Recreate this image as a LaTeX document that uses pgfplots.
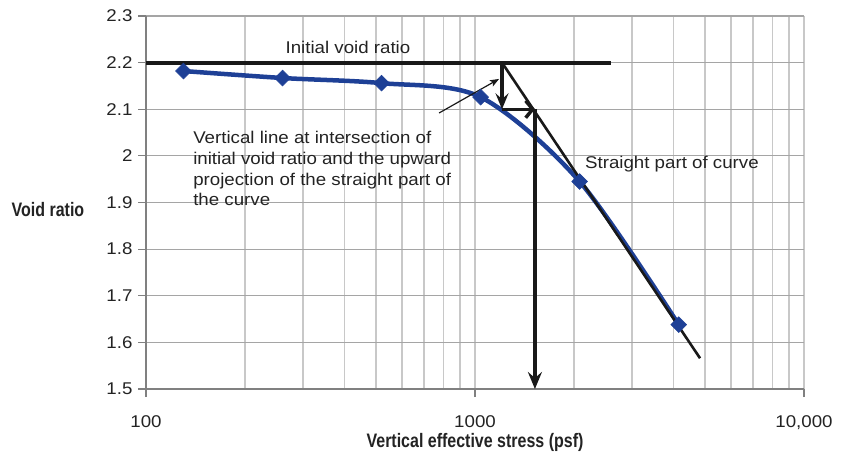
\documentclass[border=0pt]{standalone}
\usepackage{pgfplots}
\pgfplotsset{compat=1.18}
\usepackage{fontspec}
\setmainfont{Liberation Sans}[FakeStretch=1.1]
\newfontfamily\labelfont{Liberation Sans Bold}[FakeStretch=0.82]
\usetikzlibrary{arrows.meta}
\definecolor{curveblue}{RGB}{30,64,150}
\definecolor{vgrid}{RGB}{200,200,200}
\definecolor{hgrid}{RGB}{165,165,165}
\definecolor{axisgray}{RGB}{128,128,128}
\definecolor{textgray}{RGB}{35,35,35}
\begin{document}
\begin{tikzpicture}[x=1pt,y=1pt]
\useasboundingbox (-146,-62) rectangle (696,389);
\begin{axis}[
  at={(0,0)}, anchor=south west, scale only axis,
  width=658pt, height=373pt,
  xmode=log, xmin=100, xmax=10000, ymin=1.5, ymax=2.3,
  clip=false,
  xtick={100,1000,10000}, xticklabels={100,1000,{10,000}},
  minor xtick={200,300,400,500,600,700,800,900,2000,3000,4000,5000,6000,7000,8000,9000},
  ytick={1.5,1.6,1.7,1.8,1.9,2.0,2.1,2.2,2.3},
  yticklabels={1.5,1.6,1.7,1.8,1.9,2,2.1,2.2,2.3},
  xmajorgrids, xminorgrids, ymajorgrids,
  x grid style={vgrid, line width=1.1pt},
  y grid style={hgrid, line width=1.1pt},
  minor x grid style={vgrid, line width=1.1pt},
  axis lines=left,
  axis line style={axisgray, line width=1.6pt, -},
  tick style={axisgray, line width=1.2pt},
  tick align=outside, major tick length=8pt, minor tick length=0pt,
  /pgf/number format/assume math mode=true,
  tick label style={font=\fontsize{17}{20}\selectfont, text=textgray},
  xticklabel style={yshift=-15pt},
  yticklabel style={xshift=-2pt},
  xlabel={\labelfont Vertical effective stress (psf)},
  xlabel style={font=\fontsize{19.5}{22}\selectfont, text=textgray, at={(axis description cs:0.5,-0.142)}, anchor=center},
  ylabel={\labelfont Void ratio},
  ylabel style={font=\fontsize{19.5}{22}\selectfont, text=textgray, rotate=-90, at={(axis description cs:-0.149,0.48)}, anchor=center},
]
% initial void ratio line
\addplot[black!90, line width=4pt] coordinates {(100,2.2) (2588,2.2)};
% data curve
\addplot[curveblue, line width=4.5pt, smooth, mark=square*,
  mark size=5.6pt, mark options={rotate=45, line width=0.5pt, fill=curveblue}]
  coordinates {(130,2.182) (260,2.167) (520,2.156) (1040,2.126) (2080,1.945) (4160,1.638)};
% straight-line projection
\addplot[black!90, line width=2.6pt] coordinates {(1208,2.2) (4830,1.566)};
% arrows
\addplot[black!90, line width=3.5pt, -{Stealth[length=16pt,width=13pt,inset=6pt]}] coordinates {(1208,2.2) (1208,2.1)};
\addplot[black!90, line width=3.5pt, -{Straight Barb[length=7pt,width=17pt]}] coordinates {(1208,2.1) (1521,2.1)};
\addplot[black!90, line width=3.5pt, -{Stealth[length=17pt,width=14pt,inset=6pt]}] coordinates {(1521,2.1) (1521,1.5)};
\addplot[black!90, line width=1.2pt, -{Stealth[length=9pt,width=7pt,inset=2pt]}] coordinates {(778,2.092) (1183,2.165)};
% texts
\node[font=\fontsize{17}{20.7}\selectfont, text=textgray] at (axis cs:411,2.233) {Initial void ratio};
\node[font=\fontsize{17}{20.7}\selectfont, text=textgray, anchor=north west, align=left, inner sep=0pt]
  at (axis cs:139,2.053) {Vertical line at intersection of\\initial void ratio and the upward\\projection of the straight part of\\the curve};
\node[font=\fontsize{17}{20.7}\selectfont, text=textgray, anchor=west, inner sep=0pt] at (axis cs:2158,1.982) {Straight part of curve};
\end{axis}
\end{tikzpicture}
\end{document}
